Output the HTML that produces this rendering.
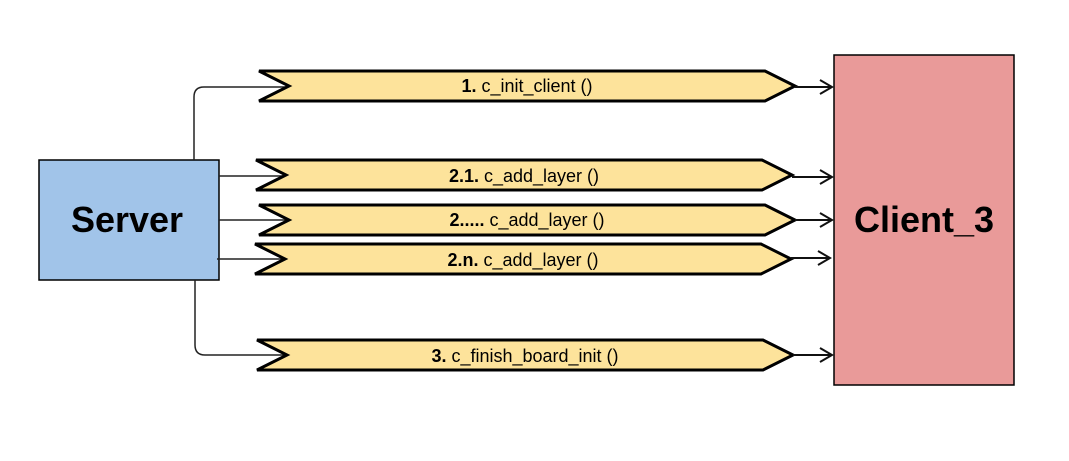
<!DOCTYPE html>
<html><head><style>body{margin:0;background:#fff}</style></head><body>
<svg width="1069" height="456" xmlns="http://www.w3.org/2000/svg" font-family="Liberation Sans, sans-serif">
<rect x="39" y="160" width="180" height="120" fill="#a1c4e9" stroke="#000" stroke-width="1.5"/>
<text x="127" y="232" text-anchor="middle" font-size="36" font-weight="bold">Server</text>
<rect x="834" y="55" width="180" height="330" fill="#e99a99" stroke="#000" stroke-width="1.5"/>
<text x="924" y="232" text-anchor="middle" font-size="36" font-weight="bold">Client_3</text>
<g fill="none" stroke="#222" stroke-width="1.5">
<path d="M194 160 V97 Q194 87 204 87 H290"/>
<path d="M219 176 H286"/>
<path d="M219 220 H289"/>
<path d="M217 259 H285"/>
<path d="M195 280 V345 Q195 355 205 355 H287"/>
</g>
<g stroke="#000" stroke-width="3" fill="#fde39b">
<polygon points="259,71 765,71 795,86 765,101 259,101 289,86"/>
<polygon points="256,160 762,160 792,175 762,190 256,190 286,175"/>
<polygon points="259,205 765,205 795,220 765,235 259,235 289,220"/>
<polygon points="255,244 761,244 791,259 761,274 255,274 285,259"/>
<polygon points="257,340 763,340 793,355 763,370 257,370 287,355"/>
</g>
<g fill="none" stroke="#111" stroke-width="2">
<path d="M795 87 H832 M820 80 L832 87 L820 94"/>
<path d="M792 177 H832 M820 170 L832 177 L820 184"/>
<path d="M795 220 H832 M820 213 L832 220 L820 227"/>
<path d="M791 258 H830 M818 251 L830 258 L818 265"/>
<path d="M793 355 H832 M820 348 L832 355 L820 362"/>
</g>
<g font-size="18" text-anchor="middle">
<text x="527" y="92"><tspan font-weight="bold">1.</tspan> c_init_client ()</text>
<text x="524" y="182"><tspan font-weight="bold">2.1.</tspan> c_add_layer ()</text>
<text x="527" y="226"><tspan font-weight="bold">2.....</tspan> c_add_layer ()</text>
<text x="523" y="266"><tspan font-weight="bold">2.n.</tspan> c_add_layer ()</text>
<text x="525" y="362"><tspan font-weight="bold">3.</tspan> c_finish_board_init ()</text>
</g>
</svg>
</body></html>
